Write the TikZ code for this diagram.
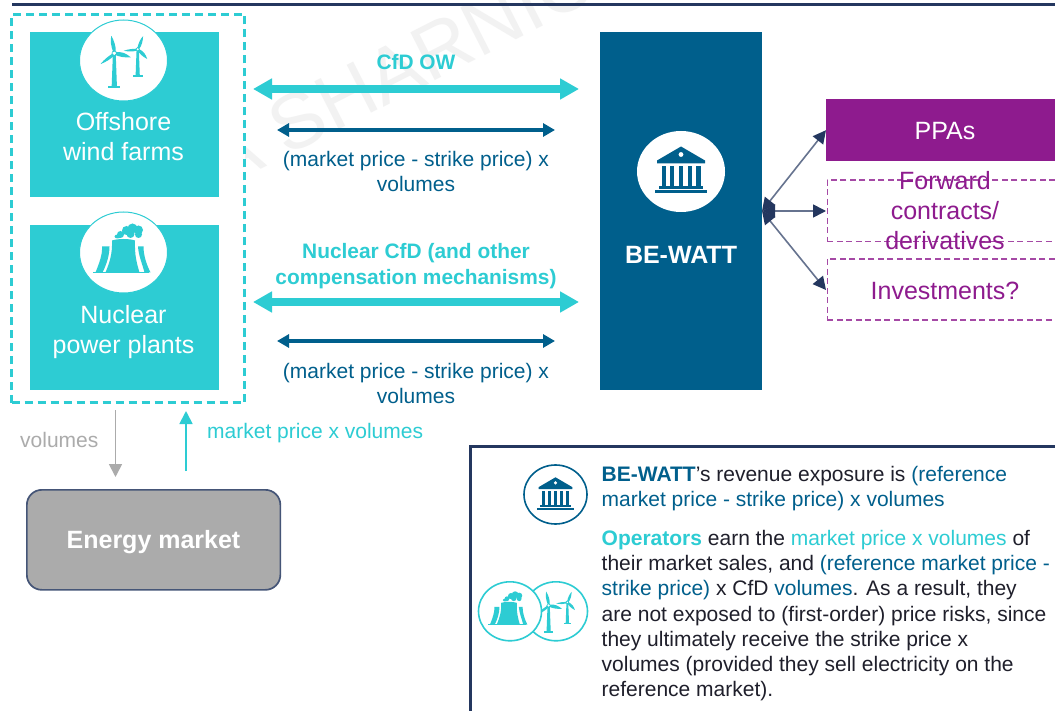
\documentclass[tikz,border=0pt]{standalone}
\usepackage{fontspec}
\setmainfont{Liberation Sans}
\usetikzlibrary{arrows.meta,calc,shapes.geometric}
\definecolor{teal1}{HTML}{2DCCD3}
\definecolor{blue1}{HTML}{005F8C}
\definecolor{navy1}{HTML}{24375F}
\definecolor{purp}{HTML}{8E1B8E}
\definecolor{gray1}{HTML}{ABABAB}
\definecolor{txt}{HTML}{1F1F2B}
\tikzset{
 tealbox/.style={fill=teal1,draw=none,minimum width=189,minimum height=165,inner sep=0,anchor=north west},
 iconcircle/.style={ellipse,fill=white,minimum width=88,minimum height=81,inner sep=0},
 smallcircle/.style={ellipse,fill=white,line width=1.6pt,minimum width=63,minimum height=59,inner sep=0},
 lbl/.style={font=\fontsize{21}{25.5}\selectfont,align=center,inner sep=0},
 big/.style={font=\fontsize{25}{30}\selectfont,align=center,inner sep=0},
 bigb/.style={font=\bfseries\fontsize{25}{30}\selectfont,align=center,inner sep=0},
 boldlbl/.style={font=\bfseries\fontsize{20.9}{26}\selectfont,align=center,inner sep=0,text=teal1},
 thick arrow/.style={line width=8pt,{Triangle[length=19pt,width=20pt]}-{Triangle[length=19pt,width=20pt]}},
 thin arrow/.style={line width=4.5pt,blue1,{Triangle[length=12pt,width=13pt]}-{Triangle[length=12pt,width=13pt]}},
 fan/.style={line width=1.6pt,navy1!70,{Triangle[length=13pt,width=13pt,color=navy1]}-{Triangle[length=13pt,width=13pt,color=navy1]}},
 vert/.style={line width=1.8pt,-{Triangle[length=13pt,width=13pt]}},
 pbox/.style={draw=purp!80,line width=1.3pt,dash pattern=on 6pt off 3.5pt,minimum width=240,inner sep=0,anchor=north west},
 para/.style={font=\fontsize{21}{25.2}\selectfont,align=left,inner sep=0,anchor=north west,text=txt},
}
% one turbine: hub at 0,0; #5 rotates the blades
\newcommand{\turbine}[5]{%
 \begin{scope}[shift={(#1,#2)},scale=#3]
  \fill[#4] (-1.4,0) -- (1.4,0) -- (2.6,32.5) -- (-2.6,32.5) -- cycle;
  \fill[#4] (-6,32.3) rectangle (6,34.3);
  \begin{scope}[rotate=#5]
  \fill[#4] (-1,-1) .. controls (-3.5,-7) and (-4,-13) .. (-3,-17.5) .. controls (0,-12) and (1.8,-7) .. (1.4,-1) -- cycle;
  \fill[#4] (1.2,-1) .. controls (7,-2) and (12,0) .. (16.5,4) .. controls (10,4.5) and (5,3.5) .. (0.4,1.4) -- cycle;
  \fill[#4] (-1.4,0) .. controls (-6,3) and (-10,6) .. (-13.8,10.8) .. controls (-8,8.5) and (-3,5.5) .. (0.6,1.4) -- cycle;
  \end{scope}
  \fill[white] (0,0) circle (1.8);
  \draw[#4,line width=.6pt] (0,0) circle (2.4);
 \end{scope}}
\newcommand{\turbines}[4]{%
 \begin{scope}[shift={(#1,#2)},scale=#3]
 \turbine{-9.2}{-7.2}{1}{#4}{0}
 \turbine{14.2}{-11.2}{.8}{#4}{-32}
 \end{scope}}
\newcommand{\plant}[4]{%
 \begin{scope}[shift={(#1,#2)},scale=#3]
  \fill[#4] (-31,19.2) rectangle (25,21);
  \fill[#4] (-28,20) .. controls (-24,10) and (-21,2) .. (-21.5,-6) -- (-14,-6) .. controls (-14,3) and (-17,12) .. (-21,20) -- cycle;
  \fill[#4] (-18,20) .. controls (-14,10) and (-11,2) .. (-11.5,-12) .. controls (-6,-14) and (6,-14) .. (11.5,-12) .. controls (11,2) and (13,10) .. (16,20) -- cycle;
  \fill[#4] (21,20) .. controls (19,12) and (15,3) .. (14.5,-6) -- (20,-6) .. controls (20,3) and (23,12) .. (27,20) -- cycle;
  \fill[#4] (-6,-16) ellipse (3 and 2) (-3,-18) circle (3.5) (3,-22) circle (4.5) (9,-24) circle (5) (15,-22.5) circle (4.5) (15,-18) circle (3.5) (7,-18.5) circle (4);
 \end{scope}}
\newcommand{\bank}[4]{%
 \begin{scope}[shift={(#1,#2)},scale=#3]
  \fill[#4] (0,-25) -- (24,-11) -- (24,-8) -- (-24,-8) -- (-24,-11) -- cycle;
  \fill[white] (0,-17) circle (2.4);
  \foreach \a in {-19.5,-11,-2.2,6.6,15.2} \fill[#4] (\a,-5.5) rectangle ++(4.4,20);
  \fill[#4] (-22,15) rectangle (22,17.5);
  \fill[#4] (-26,18.5) rectangle (26,22);
 \end{scope}}
\begin{document}
\begin{tikzpicture}[x=1pt,y=-1pt,line cap=butt]
\useasboundingbox (0,0) rectangle (1055,711);
\fill[white] (0,0) rectangle (1055,711);
% watermark
\node[rotate=27,text=black!5,font=\fontsize{78}{80}\selectfont,anchor=base west,inner sep=0] (wm) at (221,190) {A SHARNIC};
% top rule
\draw[navy1,line width=3pt] (12,4.5) -- (1055,4.5);
% dashed group
\node[draw=teal1,fill=white,line width=2.6pt,dash pattern=on 8pt off 5pt,minimum width=233,minimum height=388,anchor=north west,inner sep=0,outer sep=0] (group) at (11.5,14.5) {};
% boxes
\node[tealbox] (wind) at (29.5,32) {};
\node[tealbox] (nuc) at (29.5,225) {};
\node[iconcircle,draw=teal1,line width=1pt] (windc) at (123.5,60.5) {};
\node[iconcircle,draw=teal1,line width=1pt] (nucc) at (123.5,252.5) {};
\turbines{123.5}{60.5}{1}{teal1}
\plant{123.5}{252.5}{1}{teal1}
\node[big,text=white] (windt) at (123.5,137) {Offshore\\wind farms};
\node[big,text=white] (nuct) at (123.5,332) {Nuclear\\power plants};
% BE-WATT
\node[fill=blue1,minimum width=162,minimum height=358,inner sep=0,anchor=north west] (bw) at (600,32) {};
\node[iconcircle] (bwc) at (681,171.5) {};
\bank{681}{171.5}{1}{blue1}
\node[bigb,text=white] (bwt) at (681,255) {BE-WATT};
% Left arrows
\coordinate (a1l) at (253,89); \coordinate (a1r) at (579,89);
\draw[thick arrow,teal1] (a1l) -- (a1r);
\coordinate (a2l) at (277,130); \coordinate (a2r) at (555,130);
\draw[thin arrow] (a2l) -- (a2r);
\coordinate (a3l) at (253,302); \coordinate (a3r) at (579,302);
\draw[thick arrow,teal1] (a3l) -- (a3r);
\coordinate (a4l) at (277,341); \coordinate (a4r) at (555,341);
\draw[thin arrow] (a4l) -- (a4r);
\node[boldlbl] (l1) at (416,62) {CfD OW};
\node[lbl,text=blue1] (l2) at (416,171.5) {(market price - strike price) x\\volumes};
\node[boldlbl] (l3) at (416,266) {Nuclear CfD (and other\\compensation mechanisms)};
\node[lbl,text=blue1] (l4) at (416,383.5) {(market price - strike price) x\\volumes};
% Right boxes
\node[fill=purp,minimum width=240,minimum height=62,inner sep=0,anchor=north west] (ppa) at (826,99) {};
\node[big,text=white] (ppat) at (945,131) {PPAs};
\node[pbox,minimum height=61.5] (fwd) at (826.7,179.3) {};
\node[pbox,minimum height=61] (inv) at (826.7,258.3) {};
\node[big,text=purp] (fwdt) at (945,211) {Forward\\contracts/\\derivatives};
\node[big,text=purp] (invt) at (945,291) {Investments?};
\coordinate (fan) at (762,211);
\coordinate (fan2) at (826,211);
\coordinate (fan3) at (826,290);
\draw[fan] (fan) -- (ppa.west);
\draw[fan] (fan) -- (fan2);
\draw[fan] (fan) -- (fan3);
% market
\node[fill=gray1,draw=navy1!85,line width=1.7pt,rounded corners=15pt,minimum width=253.5,minimum height=100,inner sep=0,anchor=north west] (mkt) at (26,489) {};
\node[bigb,text=white] (mktt) at (153.5,542) {Energy market};
\coordinate (v1) at (115.5,410); \coordinate (v2) at (115.5,477);
\draw[vert,gray1] (v1) -- (v2);
\coordinate (m1) at (186,471); \coordinate (m2) at (186,411);
\draw[vert,teal1] (m1) -- (m2);
\node[lbl,text=gray1,anchor=west] (vl) at (20,440) {volumes};
\node[lbl,text=teal1,anchor=west] (ml) at (207,433.5) {market price x volumes};
% Info box
\draw[navy1,line width=3pt] (470,711) -- (470,446) -- (1055,446);
\node[smallcircle,draw=blue1] (ic1) at (555.5,494.5) {};
\bank{555.5}{494.8}{.7}{blue1}
\node[smallcircle,draw=teal1] (ic2) at (556,611.3) {};
\turbines{556}{611.3}{.8}{teal1}
\node[smallcircle,draw=teal1] (ic3) at (510,611.3) {};
\plant{509}{611}{.68}{teal1}
\node[para] (p1) at (601.5,466) {\textcolor{blue1}{\textbf{BE-WATT}}'s revenue exposure is \textcolor{blue1}{(reference}\\\textcolor{blue1}{market price - strike price) x volumes}};
\node[para] (p2) at (601.5,530) {\textcolor{teal1}{\textbf{Operators}} earn the \textcolor{teal1}{market price x volumes} of\\their market sales, and \textcolor{blue1}{(reference market price -}\\\textcolor{blue1}{strike price)} x CfD \textcolor{blue1}{volumes}. As a result, they\\are not exposed to (first-order) price risks, since\\they ultimately receive the strike price x\\volumes (provided they sell electricity on the\\reference market).};
\end{tikzpicture}
\end{document}
